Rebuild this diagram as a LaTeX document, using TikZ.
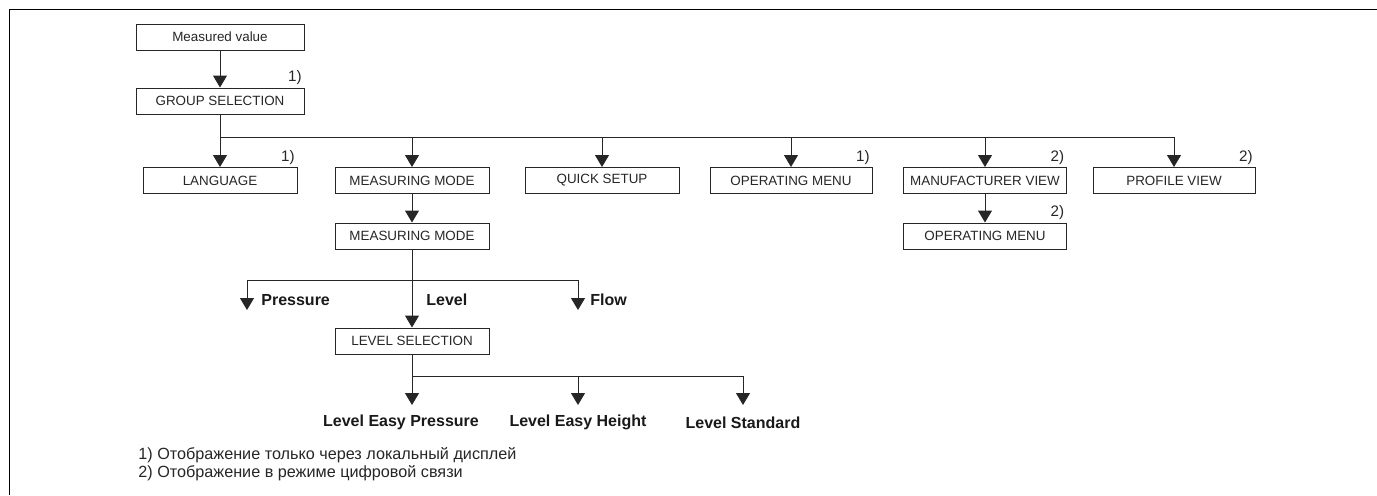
\documentclass[tikz,border=0pt]{standalone}
\usepackage{fontspec}
\setmainfont{Liberation Sans}
\usetikzlibrary{arrows.meta}

\begin{document}
\begin{tikzpicture}[x=0.5pt, y=-0.5pt]
\tikzstyle{vertexr}=[rectangle, draw=black!85, line width=0.5pt, minimum height=13pt, minimum width=77pt, inner sep=1pt, text=black!85, font=\fontsize{6.7}{8}\selectfont]
\tikzstyle{drawstyle}=[line width=0.5pt, draw=black!85, -{Triangle[length=6pt, width=7pt]}]
\tikzstyle{linestyle}=[line width=0.5pt, draw=black!85]
\tikzstyle{notestyle}=[anchor=south east, inner sep=1.2pt, text=black!85, font=\fontsize{7.6}{9}\selectfont]
\tikzstyle{choicestyle}=[inner sep=0pt, text=black!90, font=\bfseries\fontsize{8}{10}\selectfont]
\tikzstyle{footstyle}=[anchor=base west, inner sep=0pt, text=black!85, font=\fontsize{8.1}{10}\selectfont]

\useasboundingbox (0,0) rectangle (1377,495);
\draw[line width=0.8pt] (9.5,495) -- (9.5,9.5) -- (1377,9.5);

\node[vertexr, minimum width=84pt] (G0x0) at (220,37) {Measured value};
\node[vertexr, minimum width=84pt] (G0x1) at (220,101) {GROUP SELECTION};
\draw[drawstyle] (G0x0) -- (G0x1);
\node[notestyle] (N0x1) at (G0x1.north east) {1)};

\coordinate (B0) at (220,137);
\coordinate (B1) at (1174,137);
\draw[linestyle] (G0x1) -- (B0) -- (B1);

\node[vertexr] (G1x0) at (220,180.5) {LANGUAGE};
\node[vertexr] (G2x0) at (412,180.5) {MEASURING MODE};
\node[vertexr] (G3x0) at (602,180.5) {QUICK SETUP};
\node[vertexr, minimum width=81pt] (G4x0) at (791,180.5) {OPERATING MENU};
\node[vertexr, minimum width=81.5pt] (G5x0) at (985,180.5) {MANUFACTURER VIEW};
\node[vertexr, minimum width=81pt] (G6x0) at (1174,180.5) {PROFILE VIEW};
\draw[drawstyle] (B0) -- (G1x0);
\draw[drawstyle] (B0 -| G2x0) -- (G2x0);
\draw[drawstyle] (B0 -| G3x0) -- (G3x0);
\draw[drawstyle] (B0 -| G4x0) -- (G4x0);
\draw[drawstyle] (B0 -| G5x0) -- (G5x0);
\draw[drawstyle] (B1) -- (G6x0);
\node[notestyle] (N1x0) at (G1x0.north east) {1)};
\node[notestyle] (N4x0) at (G4x0.north east) {1)};
\node[notestyle] (N5x0) at (G5x0.north east) {2)};
\node[notestyle] (N6x0) at (G6x0.north east) {2)};

\node[vertexr, minimum width=81.5pt] (G5x1) at (985,236) {OPERATING MENU};
\draw[drawstyle] (G5x0) -- (G5x1);
\node[notestyle] (N5x1) at (G5x1.north east) {2)};

\node[vertexr] (G2x1) at (412,236) {MEASURING MODE};
\draw[drawstyle] (G2x0) -- (G2x1);

\coordinate (B2) at (247,280);
\coordinate (B3) at (578,280);
\coordinate (P0) at (247,310);
\coordinate (P1) at (578,310);
\draw[linestyle] (B2) -- (B3);
\draw[drawstyle] (B2) -- (P0);
\draw[drawstyle] (B3) -- (P1);
\node[vertexr] (G2x2) at (412,341) {LEVEL SELECTION};
\draw[drawstyle] (G2x1) -- (G2x2);
\node[choicestyle, anchor=base west] (C0) at (261,305) {Pressure};
\node[choicestyle, anchor=base west] (C1) at (426,305) {Level};
\node[choicestyle, anchor=base west] (C2) at (590,305) {Flow};

\coordinate (B4) at (412,376);
\coordinate (B5) at (743,376);
\coordinate (T0) at (412,405);
\coordinate (T1) at (578,405);
\coordinate (T2) at (743,405);
\draw[linestyle] (G2x2) -- (B4) -- (B5);
\draw[drawstyle] (B4) -- (T0);
\draw[drawstyle] (B4 -| T1) -- (T1);
\draw[drawstyle] (B5) -- (T2);
\node[choicestyle, anchor=base] (C3) at (401,426) {Level Easy Pressure};
\node[choicestyle, anchor=base] (C4) at (578,426) {Level Easy Height};
\node[choicestyle, anchor=base] (C5) at (743,428) {Level Standard};

\node[footstyle] (F0) at (138,459) {1) Отображение только через локальный дисплей};
\node[footstyle] (F1) at (138,477) {2) Отображение в режиме цифровой связи};
\end{tikzpicture}
\end{document}
